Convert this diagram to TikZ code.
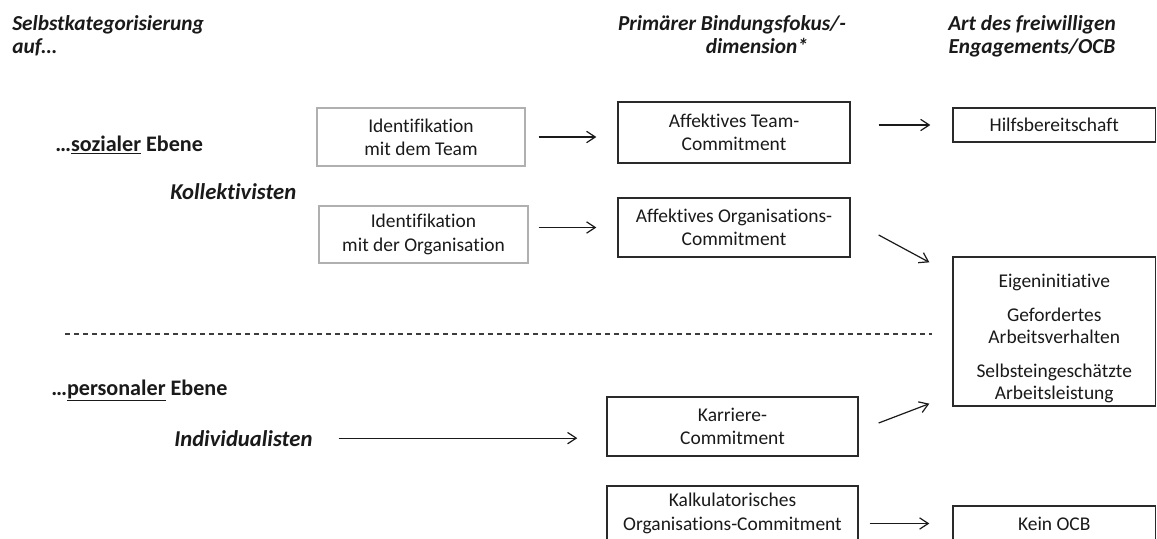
\documentclass[tikz,border=0pt]{standalone}
\usepackage{fontspec}
\setmainfont{Carlito}[Ligatures=NoCommon]
\usetikzlibrary{arrows.meta,calc}
\definecolor{ink}{HTML}{1A1A1A}
\definecolor{frame}{HTML}{2A2A2A}
\definecolor{idframe}{HTML}{B0B0B0}
\begin{document}
\begin{tikzpicture}[x=0.75pt,y=-0.75pt,
  boxtext/.style={font=\fontsize{14.6}{17.4}\selectfont, align=center, text=ink},
  idbox/.style={boxtext, draw=idframe, line width=0.8pt, inner sep=0pt},
  mainbox/.style={boxtext, draw=frame, line width=1pt, inner sep=0pt},
  head/.style={font=\fontsize{16}{18}\selectfont\bfseries\itshape, inner sep=0pt, text=ink},
  level/.style={font=\fontsize{16.6}{18}\selectfont\bfseries, inner sep=0pt, text=ink},
  group/.style={font=\fontsize{17}{18}\selectfont\bfseries\itshape, inner sep=0pt, text=ink},
  arr/.style={draw=ink, line width=0.9pt, -{Straight Barb[length=6.5pt,width=8.5pt]}},
  divider/.style={draw=ink!85, line width=0.9pt, dash pattern=on 3.75pt off 3pt},
]
\fill[white] (0,0) rectangle (1157,539);
\useasboundingbox (0,0) rectangle (1157,539);

% column headings
\node[head, anchor=base west] (hSelfA) at (12,31) {Selbstkategorisierung};
\node[head, anchor=base west] (hSelfB) at (12,53) {auf…};
\node[head, anchor=base] (hFocusA) at (732,31) {Primärer Bindungsfokus/-};
\node[head, anchor=base] (hFocusB) at (757,53) {dimension*};
\node[head, anchor=base] (hOcbA) at (1032,31) {Art des freiwilligen};
\node[head, anchor=base] (hOcbB) at (1032,53) {Engagements/OCB};

% levels of self-categorisation
\node[level, anchor=base west] (social) at (55,151) {…\underline{sozialer} Ebene};
\node[group, anchor=base west] (koll) at (170,199) {Kollektivisten};
\node[level, anchor=base west] (personal) at (51,395) {…\underline{personaler} Ebene};
\node[group, anchor=base west] (indiv) at (174,446) {Individualisten};

% identification
\node[idbox, minimum width=156pt, minimum height=43.5pt] (idteam) at (421,137)
  {Identifikation\\mit dem Team};
\node[idbox, minimum width=156.75pt, minimum height=42.75pt] (idorg) at (423.5,234.5)
  {Identifikation\\mit der Organisation};

% commitment foci
\node[mainbox, minimum width=174pt, minimum height=45.75pt] (affteam) at (734,132.5)
  {Affektives Team-\\Commitment};
\node[mainbox, minimum width=174pt, minimum height=44.25pt] (afforg) at (734,227.5)
  {Affektives Organisations-\\Commitment};
\node[mainbox, minimum width=188.25pt, minimum height=44.25pt] (karriere) at (732.5,426.5)
  {Karriere-\\Commitment};
\node[mainbox, minimum width=188.25pt, minimum height=41.25pt] (kalk) at (732.5,513.5)
  {Kalkulatorisches\\Organisations-Commitment};

% kinds of engagement
\node[mainbox, minimum width=151.875pt, minimum height=25.5pt] (hilfs) at (1054.25,125)
  {Hilfsbereitschaft};
\node[mainbox, minimum width=151.875pt, minimum height=111.75pt] (big) at (1054.25,331.5) {};
\node[boxtext, font=\fontsize{14.6}{16.5}\selectfont, inner sep=0pt] (bigtext) at (1054.25,338)
  {Eigeninitiative\\[9pt]Gefordertes\\Arbeitsverhalten\\[9pt]Selbsteingeschätzte\\Arbeitsleistung};
\node[mainbox, minimum width=151.875pt, minimum height=26.25pt] (kein) at (1054.25,523.5)
  {Kein OCB};

% divider between the two levels
\coordinate (dashL) at (65,334);
\coordinate (dashR) at (932,334);
\draw[divider] (dashL) -- (dashR);

% connectors
\draw[arr, shorten <=9.75pt, shorten >=15.75pt] (idteam.east) -- (idteam.east -| affteam.west);
\draw[arr, shorten <=7.5pt, shorten >=15.75pt] (idorg.east |- afforg.west) -- (afforg.west);
\draw[arr, shorten <=21pt, shorten >=16.5pt] (affteam.east |- hilfs.west) -- (hilfs.west);
\draw[arr] ([shift={(28,7.5)}]afforg.east) -- ([shift={(-23,6)}]big.north west);
\draw[arr] ([shift={(20,-3.5)}]karriere.east) -- ([shift={(-23,-3)}]big.south west);
\draw[arr, shorten <=8.25pt, shorten >=17.25pt] (kalk.east |- kein.west) -- (kein.west);
\draw[arr, shorten <=19.5pt, shorten >=21.75pt] (indiv.east) -- (indiv.east -| karriere.west);
\end{tikzpicture}
\end{document}
